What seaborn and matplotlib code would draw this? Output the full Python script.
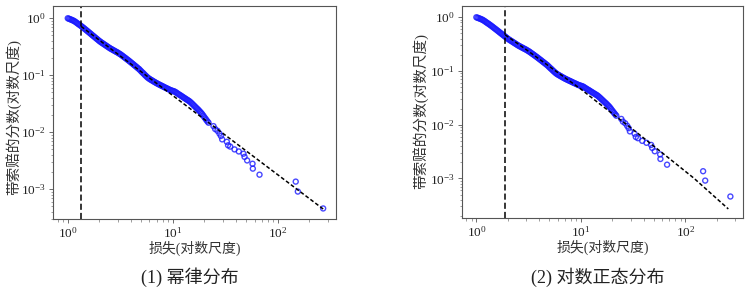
import numpy as np
import pandas as pd
import matplotlib
matplotlib.use("Agg")
import matplotlib.pyplot as plt
import seaborn as sns

loss = [1.000, 1.047, 1.096, 1.148, 1.202, 1.259, 1.318, 1.380, 1.445, 1.514,
        1.585, 1.660, 1.738, 1.820, 1.905, 1.995, 2.089, 2.188, 2.291, 2.399,
        2.512, 2.630, 2.754, 2.884, 3.020, 3.162, 3.311, 3.467, 3.631, 3.802,
        3.981, 4.169, 4.365, 4.571, 4.786, 5.012, 5.248, 5.495, 5.754, 6.026,
        6.310, 6.607, 6.918, 7.244, 7.586, 7.943, 8.318, 8.710, 9.120, 9.550,
        10.00, 10.47, 10.96, 11.48, 12.02, 12.59, 13.18, 13.80, 14.45, 15.14,
        15.85, 16.60, 17.38, 18.20, 19.05, 19.95, 20.89, 21.88,
        1.023, 1.072, 1.122, 1.175, 1.230, 1.288, 1.349, 1.413, 1.479, 1.549,
        1.622, 1.698, 1.778, 1.862, 1.950, 2.042, 2.138, 2.239, 2.344, 2.455,
        2.570, 2.692, 2.818, 2.951, 3.090, 3.236, 3.388, 3.548, 3.715, 3.890,
        4.074, 4.266, 4.467, 4.677, 4.898, 5.129, 5.370, 5.623, 5.888, 6.166,
        6.457, 6.761, 7.079, 7.413, 7.762, 8.128, 8.511, 8.913, 9.333, 9.772,
        10.23, 10.72, 11.22, 11.75, 12.30, 12.88, 13.49, 14.13, 14.79, 15.49,
        16.22, 16.98, 17.78, 18.62, 19.50, 20.42, 21.38,
        24.4, 25.3, 26.6, 27.8, 28.7, 29.5, 32.7, 33.6, 35.2, 38.7, 42.5,
        47.1, 48.2, 51.0, 57.4, 57.8, 66.9, 148.0, 155.0, 270.0]
frac = [1.000, 0.966, 0.933, 0.897, 0.847, 0.794, 0.748, 0.701, 0.655, 0.611,
        0.570, 0.531, 0.494, 0.461, 0.430, 0.400, 0.376, 0.356, 0.336, 0.317,
        0.299, 0.285, 0.272, 0.259, 0.247, 0.234, 0.220, 0.206, 0.193, 0.181,
        0.169, 0.158, 0.147, 0.137, 0.128, 0.117, 0.108, 0.0989, 0.0912, 0.0857,
        0.0815, 0.0774, 0.0736, 0.0703, 0.0673, 0.0646, 0.0618, 0.0593, 0.0569, 0.0546,
        0.0531, 0.0515, 0.0486, 0.0459, 0.0436, 0.0411, 0.0389, 0.0368, 0.0348, 0.0322,
        0.0296, 0.0272, 0.0251, 0.0229, 0.0208, 0.0184, 0.0164, 0.0147,
        0.983, 0.950, 0.915, 0.872, 0.820, 0.771, 0.724, 0.678, 0.632, 0.590,
        0.550, 0.512, 0.478, 0.445, 0.415, 0.388, 0.366, 0.345, 0.326, 0.308,
        0.292, 0.278, 0.265, 0.253, 0.240, 0.227, 0.213, 0.200, 0.187, 0.175,
        0.163, 0.152, 0.142, 0.132, 0.122, 0.112, 0.103, 0.0950, 0.0884, 0.0836,
        0.0794, 0.0755, 0.0719, 0.0688, 0.0659, 0.0632, 0.0605, 0.0581, 0.0557, 0.0538,
        0.0523, 0.0501, 0.0473, 0.0447, 0.0423, 0.0400, 0.0378, 0.0358, 0.0335, 0.0309,
        0.0284, 0.0261, 0.0240, 0.0219, 0.0196, 0.0174, 0.0155,
        0.0128, 0.0114, 0.0106, 0.0095, 0.0086, 0.0075, 0.0068, 0.0059, 0.0056, 0.0050, 0.0046,
        0.0042, 0.0037, 0.0032, 0.0028, 0.0023, 0.0018, 0.00136, 0.00091, 0.00046]

# power-law fit (straight line in log-log)
pl_x = [1.34, 270.0]
pl_y = [0.72, 0.00045]
pl_xmin = 1.34

# log-normal fit
ln_x = [1.89, 3.0, 5.4, 10.0, 15.3, 30.0, 60.0, 120.0, 258.0]
ln_y = [0.47, 0.25, 0.109, 0.046, 0.0240, 0.0088, 0.0030, 0.00102, 0.00027]
ln_xmin = 1.89

captions = ["(1) 幂律分布", "(2) 对数正态分布"]
xlabel = "损失(对数尺度)"
ylabel = "带索赔的分数(对数尺度)"

sns.set_style("ticks")
plt.rcParams["font.family"] = ["Liberation Serif", "Noto Sans CJK SC", "DejaVu Sans"]
plt.rcParams["mathtext.fontset"] = "stix"

df = pd.DataFrame({"loss": loss, "frac": frac})
fits = [pd.DataFrame({"x": pl_x, "y": pl_y}), pd.DataFrame({"x": ln_x, "y": ln_y})]
xmins = [pl_xmin, ln_xmin]

fig = plt.figure(figsize=(7.49, 2.94), dpi=100)
ax_rects = [[0.0708, 0.255, 0.378, 0.7245], [0.6164, 0.2585, 0.376, 0.721]]
ylims = [(3.0e-4, 1.64), (1.83e-4, 1.62)]
ylab_pos = [(-0.137, 0.479), (-0.145, 0.504)]
cap_x = [190 / 749, 598 / 749]

for i in range(2):
    ax = fig.add_axes(ax_rects[i])
    ax.set_xscale("log")
    ax.set_yscale("log")
    sns.scatterplot(data=df, x="loss", y="frac", ax=ax, marker="o",
                    facecolors="none", edgecolor=(0.1, 0.1, 1.0), linewidth=1.0,
                    s=13, alpha=0.8, legend=False)
    sns.lineplot(data=fits[i], x="x", y="y", ax=ax, color="black",
                 linestyle=(0, (2.5, 1.5)), linewidth=1.1, sort=True)
    ax.axvline(xmins[i], color="black", linestyle=(0, (4, 2)), linewidth=1.1)
    ax.set_xlim(0.724, 359)
    ax.set_ylim(*ylims[i])
    ax.set_xlabel(xlabel, fontsize=10, color="#333333", va="center")
    ax.xaxis.set_label_coords(0.5, -0.137)
    ax.set_ylabel(ylabel, fontsize=10.5, color="#333333", va="center")
    ax.yaxis.set_label_coords(*ylab_pos[i])
    ax.tick_params(which="major", length=3, width=0.6, color="#555555",
                   labelsize=9.5, labelcolor="#222222", pad=2)
    ax.tick_params(which="minor", length=1.8, width=0.5, color="#777777")
    for sp in ax.spines.values():
        sp.set_color("#555555")
        sp.set_linewidth(0.8)
    fig.text(cap_x[i], 1 - 277 / 294, captions[i], ha="center", va="center",
             fontsize=13, color="#222222")

fig.savefig("out.png", dpi=100)
